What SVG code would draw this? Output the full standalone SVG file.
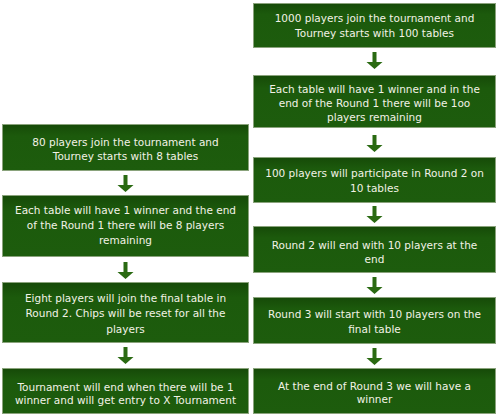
<svg xmlns="http://www.w3.org/2000/svg" xmlns:xlink="http://www.w3.org/1999/xlink" width="498" height="416" viewBox="0 0 498 416">
<defs>
<linearGradient id="g" x1="0" y1="0" x2="0" y2="1">
<stop offset="0" stop-color="#164a08"/>
<stop offset="0.25" stop-color="#1c5a0c"/>
<stop offset="1" stop-color="#1d5c0d"/>
</linearGradient>
<path id="arr" d="M-2,0 H2 V10 H8 L0,17 L-8,10 H-2 Z" fill="#2a6a12"/>
</defs>
<style>
.box{fill:url(#g);stroke:#8aa37c;stroke-width:1}
text{font-family:"DejaVu Sans","Verdana",sans-serif;font-size:10.5px;fill:#f2f2e6;text-anchor:middle}
</style>
<rect width="498" height="416" fill="#ffffff"/>
<g id="connectors">
<use xlink:href="#arr" x="125.5" y="175"/>
<use xlink:href="#arr" x="125.5" y="262"/>
<use xlink:href="#arr" x="125.5" y="347"/>
<use xlink:href="#arr" x="374.5" y="52"/>
<use xlink:href="#arr" x="374.5" y="135"/>
<use xlink:href="#arr" x="374.5" y="206"/>
<use xlink:href="#arr" x="374.5" y="277"/>
<use xlink:href="#arr" x="374.5" y="348"/>
</g>
<g id="L1"><rect class="box" x="2.5" y="124.5" width="246" height="46"/>
<text x="125.5" y="146">80 players join the tournament and</text>
<text x="125.5" y="160">Tourney starts with 8 tables</text></g>
<g id="L2"><rect class="box" x="2.5" y="195.5" width="246" height="61"/>
<text x="125.5" y="214">Each table will have 1 winner and the end</text>
<text x="125.5" y="229">of the Round 1 there will be 8 players</text>
<text x="125.5" y="244">remaining</text></g>
<g id="L3"><rect class="box" x="2.5" y="282.5" width="246" height="60"/>
<text x="125.5" y="302">Eight players will join the final table in</text>
<text x="125.5" y="317">Round 2. Chips will be reset for all the</text>
<text x="125.5" y="333">players</text></g>
<g id="L4"><rect class="box" x="2.5" y="368.5" width="246" height="45"/>
<text x="125.5" y="391">Tournament will end when there will be 1</text>
<text x="125.5" y="404">winner and will get entry to X Tournament</text></g>
<g id="R1"><rect class="box" x="253.5" y="3.5" width="242" height="44"/>
<text x="374.5" y="22">1000 players join the tournament and</text>
<text x="374.5" y="37">Tourney starts with 100 tables</text></g>
<g id="R2"><rect class="box" x="253.5" y="75.5" width="242" height="52"/>
<text x="374.5" y="93">Each table will have 1 winner and in the</text>
<text x="374.5" y="107">end of the Round 1 there will be 1oo</text>
<text x="374.5" y="121">players remaining</text></g>
<g id="R3"><rect class="box" x="253.5" y="157.5" width="242" height="45"/>
<text x="374.5" y="177">100 players will participate in Round 2 on</text>
<text x="374.5" y="192">10 tables</text></g>
<g id="R4"><rect class="box" x="253.5" y="226.5" width="242" height="46"/>
<text x="374.5" y="249">Round 2 will end with 10 players at the</text>
<text x="374.5" y="263">end</text></g>
<g id="R5"><rect class="box" x="253.5" y="297.5" width="242" height="46"/>
<text x="374.5" y="318">Round 3 will start with 10 players on the</text>
<text x="374.5" y="333">final table</text></g>
<g id="R6"><rect class="box" x="253.5" y="368.5" width="242" height="45"/>
<text x="374.5" y="390">At the end of Round 3 we will have a</text>
<text x="374.5" y="403">winner</text></g>
</svg>
